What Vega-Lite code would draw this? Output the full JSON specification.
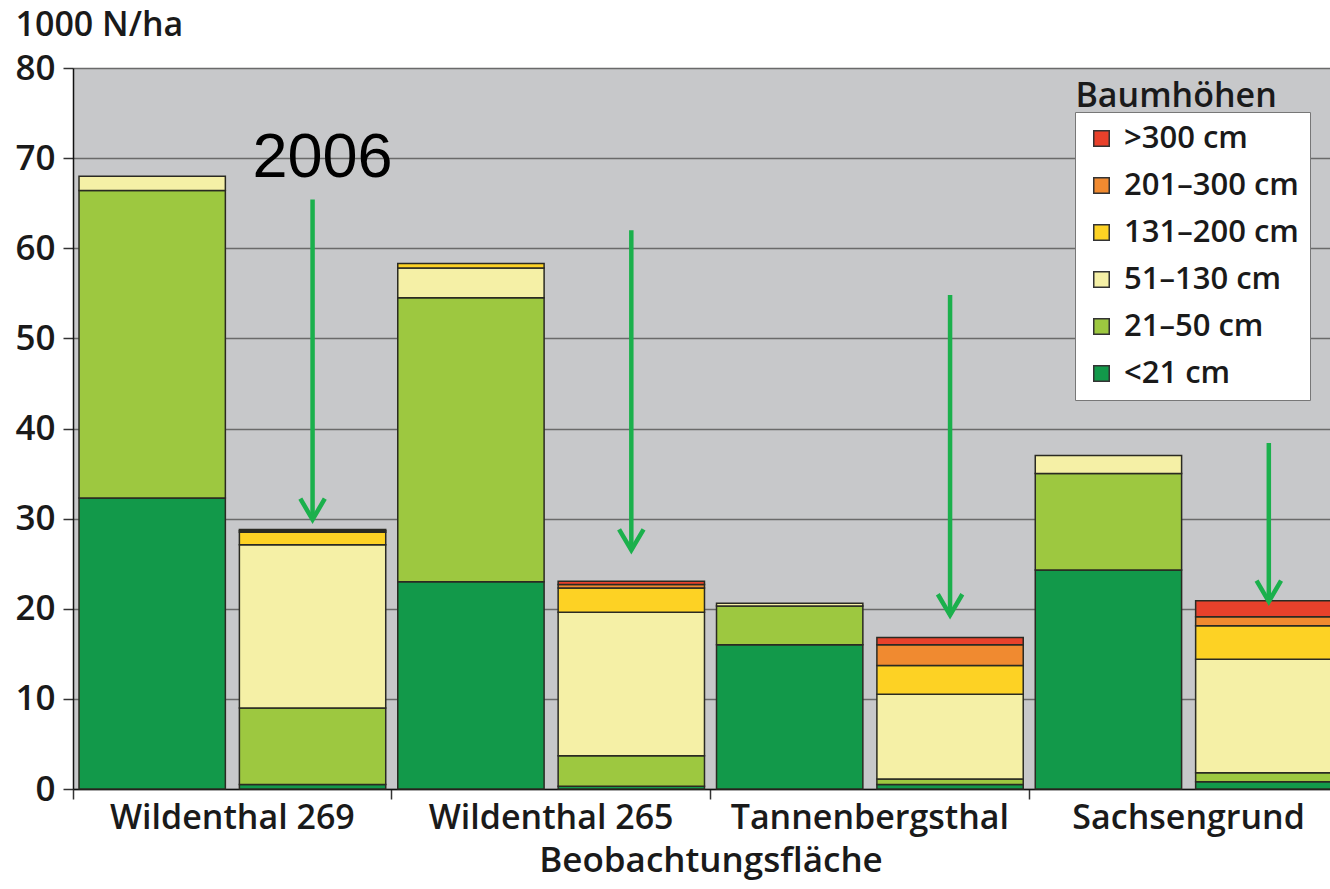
{
  "$schema": "https://vega.github.io/schema/vega-lite/v6.json",
  "autosize": "none",
  "padding": {"left": 73, "top": 68, "right": 0, "bottom": 100},
  "width": 1275,
  "height": 721,
  "background": "white",
  "view": {"fill": "#c7c8ca", "stroke": null},
  "config": {
    "font": "Open Sans",
    "axis": {"labelFont": "Open Sans", "titleFont": "Open Sans", "labelColor": "#1a1a1a", "titleColor": "#1a1a1a"}
  },
  "datasets": {
    "bars": [
      {"site": "Wildenthal 269", "Jahr": "früher", "Hoehe": "<21 cm", "ord": 1, "N": 32.3},
      {"site": "Wildenthal 269", "Jahr": "früher", "Hoehe": "21–50 cm", "ord": 2, "N": 34.1},
      {"site": "Wildenthal 269", "Jahr": "früher", "Hoehe": "51–130 cm", "ord": 3, "N": 1.6},
      {"site": "Wildenthal 269", "Jahr": "2006", "Hoehe": "<21 cm", "ord": 1, "N": 0.5},
      {"site": "Wildenthal 269", "Jahr": "2006", "Hoehe": "21–50 cm", "ord": 2, "N": 8.5},
      {"site": "Wildenthal 269", "Jahr": "2006", "Hoehe": "51–130 cm", "ord": 3, "N": 18.1},
      {"site": "Wildenthal 269", "Jahr": "2006", "Hoehe": "131–200 cm", "ord": 4, "N": 1.4},
      {"site": "Wildenthal 269", "Jahr": "2006", "Hoehe": "201–300 cm", "ord": 5, "N": 0.15},
      {"site": "Wildenthal 269", "Jahr": "2006", "Hoehe": ">300 cm", "ord": 6, "N": 0.15},
      {"site": "Wildenthal 265", "Jahr": "früher", "Hoehe": "<21 cm", "ord": 1, "N": 23.0},
      {"site": "Wildenthal 265", "Jahr": "früher", "Hoehe": "21–50 cm", "ord": 2, "N": 31.5},
      {"site": "Wildenthal 265", "Jahr": "früher", "Hoehe": "51–130 cm", "ord": 3, "N": 3.3},
      {"site": "Wildenthal 265", "Jahr": "früher", "Hoehe": "131–200 cm", "ord": 4, "N": 0.5},
      {"site": "Wildenthal 265", "Jahr": "2006", "Hoehe": "<21 cm", "ord": 1, "N": 0.3},
      {"site": "Wildenthal 265", "Jahr": "2006", "Hoehe": "21–50 cm", "ord": 2, "N": 3.4},
      {"site": "Wildenthal 265", "Jahr": "2006", "Hoehe": "51–130 cm", "ord": 3, "N": 15.9},
      {"site": "Wildenthal 265", "Jahr": "2006", "Hoehe": "131–200 cm", "ord": 4, "N": 2.7},
      {"site": "Wildenthal 265", "Jahr": "2006", "Hoehe": "201–300 cm", "ord": 5, "N": 0.4},
      {"site": "Wildenthal 265", "Jahr": "2006", "Hoehe": ">300 cm", "ord": 6, "N": 0.35},
      {"site": "Tannenbergsthal", "Jahr": "früher", "Hoehe": "<21 cm", "ord": 1, "N": 16.0},
      {"site": "Tannenbergsthal", "Jahr": "früher", "Hoehe": "21–50 cm", "ord": 2, "N": 4.3},
      {"site": "Tannenbergsthal", "Jahr": "früher", "Hoehe": "51–130 cm", "ord": 3, "N": 0.3},
      {"site": "Tannenbergsthal", "Jahr": "2006", "Hoehe": "<21 cm", "ord": 1, "N": 0.5},
      {"site": "Tannenbergsthal", "Jahr": "2006", "Hoehe": "21–50 cm", "ord": 2, "N": 0.6},
      {"site": "Tannenbergsthal", "Jahr": "2006", "Hoehe": "51–130 cm", "ord": 3, "N": 9.4},
      {"site": "Tannenbergsthal", "Jahr": "2006", "Hoehe": "131–200 cm", "ord": 4, "N": 3.2},
      {"site": "Tannenbergsthal", "Jahr": "2006", "Hoehe": "201–300 cm", "ord": 5, "N": 2.3},
      {"site": "Tannenbergsthal", "Jahr": "2006", "Hoehe": ">300 cm", "ord": 6, "N": 0.8},
      {"site": "Sachsengrund", "Jahr": "früher", "Hoehe": "<21 cm", "ord": 1, "N": 24.3},
      {"site": "Sachsengrund", "Jahr": "früher", "Hoehe": "21–50 cm", "ord": 2, "N": 10.7},
      {"site": "Sachsengrund", "Jahr": "früher", "Hoehe": "51–130 cm", "ord": 3, "N": 2.0},
      {"site": "Sachsengrund", "Jahr": "2006", "Hoehe": "<21 cm", "ord": 1, "N": 0.8},
      {"site": "Sachsengrund", "Jahr": "2006", "Hoehe": "21–50 cm", "ord": 2, "N": 1.0},
      {"site": "Sachsengrund", "Jahr": "2006", "Hoehe": "51–130 cm", "ord": 3, "N": 12.6},
      {"site": "Sachsengrund", "Jahr": "2006", "Hoehe": "131–200 cm", "ord": 4, "N": 3.7},
      {"site": "Sachsengrund", "Jahr": "2006", "Hoehe": "201–300 cm", "ord": 5, "N": 1.0},
      {"site": "Sachsengrund", "Jahr": "2006", "Hoehe": ">300 cm", "ord": 6, "N": 1.8}
    ],
    "arrows": [
      {"site": "Wildenthal 269", "Jahr": "2006", "from": 65.4, "to": 29.9},
      {"site": "Wildenthal 265", "Jahr": "2006", "from": 62.0, "to": 26.5},
      {"site": "Tannenbergsthal", "Jahr": "2006", "from": 54.8, "to": 19.3},
      {"site": "Sachsengrund", "Jahr": "2006", "from": 38.4, "to": 20.8}
    ],
    "yearNote": [
      {"site": "Wildenthal 269", "Jahr": "2006", "y": 67.9, "label": "2006"}
    ],
    "legendNote": [
      {"site": "Sachsengrund", "Jahr": "früher", "y": 75.7, "label": "Baumhöhen"}
    ]
  },
  "layer": [
    {
      "data": {"name": "bars"},
      "mark": {"type": "bar", "stroke": "#2a2a22", "strokeWidth": 1.5},
      "encoding": {
        "x": {
          "field": "site", "type": "nominal",
          "sort": ["Wildenthal 269", "Wildenthal 265", "Tannenbergsthal", "Sachsengrund"],
          "scale": {"paddingInner": 0, "paddingOuter": 0},
          "axis": {
            "title": "Beobachtungsfläche", "titleFontSize": 35, "titleFontWeight": 600, "titlePadding": 8,
            "bandPosition": 0, "labelAlign": "center",
            "labelAngle": 0, "labelFontSize": 34, "labelFontWeight": 600, "labelPadding": 2, "labelLimit": 400,
            "ticks": true, "tickSize": 10, "tickColor": "#333", "tickWidth": 1.5,
            "domain": true, "domainColor": "#111", "domainWidth": 1.5, "grid": false
          }
        },
        "xOffset": {
          "field": "Jahr", "type": "nominal",
          "scale": {"domain": ["früher", "2006"], "paddingInner": 0.0875, "paddingOuter": 0.0375}
        },
        "y": {
          "field": "N", "type": "quantitative", "stack": "zero",
          "scale": {"domain": [0, 80], "nice": false},
          "axis": {
            "title": "1000 N/ha", "titleAngle": 0, "titleAlign": "left", "titleBaseline": "alphabetic",
            "titleX": -58, "titleY": -33, "titleFontSize": 34, "titleFontWeight": 600,
            "values": [0, 10, 20, 30, 40, 50, 60, 70, 80],
            "labelFontSize": 35, "labelFontWeight": 600, "labelPadding": 8,
            "tickSize": 10, "tickColor": "#333", "tickWidth": 1.5,
            "domain": true, "domainColor": "#111", "domainWidth": 1.5,
            "grid": true, "gridColor": "#6a6a6a", "gridWidth": 1.5
          }
        },
        "color": {
          "field": "Hoehe", "type": "nominal",
          "scale": {
            "domain": [">300 cm", "201–300 cm", "131–200 cm", "51–130 cm", "21–50 cm", "<21 cm"],
            "range": ["#e8412b", "#f08a30", "#fdd224", "#f5f0a6", "#9dc840", "#12994a"]
          },
          "legend": {
            "title": null, "orient": "none", "legendX": 1002, "legendY": 44,
            "fillColor": "white", "strokeColor": "#777", "padding": 11,
            "labelFont": "Open Sans", "labelFontSize": 31, "labelFontWeight": 600, "labelColor": "#1a1a1a",
            "labelOffset": 7, "rowPadding": 15, "labelLimit": 400,
            "symbolType": "square", "symbolSize": 240, "symbolStrokeColor": "#333", "symbolStrokeWidth": 1.5, "symbolOpacity": 1
          }
        },
        "order": {"field": "ord", "type": "quantitative"}
      }
    },
    {
      "data": {"name": "arrows"},
      "mark": {"type": "rule", "color": "#1bb04c", "strokeWidth": 4.5},
      "encoding": {
        "x": {"field": "site", "type": "nominal", "sort": ["Wildenthal 269", "Wildenthal 265", "Tannenbergsthal", "Sachsengrund"]},
        "xOffset": {"field": "Jahr", "type": "nominal", "scale": {"domain": ["früher", "2006"]}},
        "y": {"field": "from", "type": "quantitative"},
        "y2": {"field": "to"}
      }
    },
    {
      "data": {"name": "arrows"},
      "mark": {"type": "point", "shape": "M-1,-1.7L0,0L1,-1.7", "filled": false, "stroke": "#1bb04c", "strokeWidth": 4.5, "size": 600, "opacity": 1, "strokeJoin": "miter"},
      "encoding": {
        "x": {"field": "site", "type": "nominal", "sort": ["Wildenthal 269", "Wildenthal 265", "Tannenbergsthal", "Sachsengrund"]},
        "xOffset": {"field": "Jahr", "type": "nominal", "scale": {"domain": ["früher", "2006"]}},
        "y": {"field": "to", "type": "quantitative"}
      }
    },
    {
      "data": {"name": "yearNote"},
      "mark": {"type": "text", "font": "Liberation Sans", "fontSize": 63, "color": "#000", "baseline": "alphabetic", "align": "center", "dx": 10},
      "encoding": {
        "x": {"field": "site", "type": "nominal", "sort": ["Wildenthal 269", "Wildenthal 265", "Tannenbergsthal", "Sachsengrund"]},
        "xOffset": {"field": "Jahr", "type": "nominal", "scale": {"domain": ["früher", "2006"]}},
        "y": {"field": "y", "type": "quantitative"},
        "text": {"field": "label"}
      }
    },
    {
      "data": {"name": "legendNote"},
      "mark": {"type": "text", "font": "Open Sans", "fontSize": 34, "fontWeight": 600, "color": "#1a1a1a", "baseline": "alphabetic", "align": "left", "dx": -33},
      "encoding": {
        "x": {"field": "site", "type": "nominal", "sort": ["Wildenthal 269", "Wildenthal 265", "Tannenbergsthal", "Sachsengrund"]},
        "xOffset": {"field": "Jahr", "type": "nominal", "scale": {"domain": ["früher", "2006"]}},
        "y": {"field": "y", "type": "quantitative"},
        "text": {"field": "label"}
      }
    }
  ]
}
